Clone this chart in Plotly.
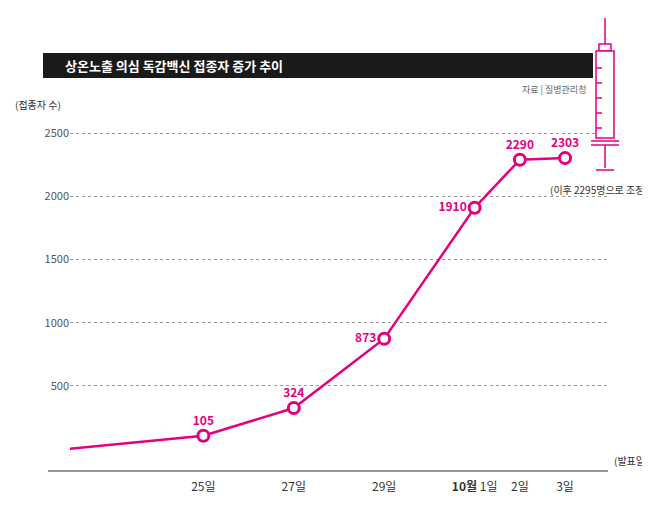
import plotly.graph_objects as go

days = [22, 25, 27, 29, 31, 32, 33]
tick_text = ["<b>9월</b> 22일", "25일", "27일", "29일", "<b>10월</b> 1일", "2일", "3일"]
counts = [0, 105, 324, 873, 1910, 2290, 2303]
labels = ["0", "105", "324", "873", "1910", "2290", "2303"]
label_pos = ["top center", "top center", "top center", "middle left", "middle left", "top center", "top center"]

PINK = "#e6007e"
L, R, T, B, W, H = 62, 50, 105, 52, 650, 522
PW, PH = W - L - R, H - T - B

def px(x):
    return (x - L) / PW

def py(y):
    return (H - B - y) / PH

fig = go.Figure()
fig.add_trace(go.Scatter(
    x=days, y=counts, mode="lines+markers+text",
    text=["<b>%s</b>" % t for t in labels], textposition=label_pos,
    textfont=dict(color=PINK, size=12),
    line=dict(color=PINK, width=2.5),
    marker=dict(size=11, color="white", line=dict(color=PINK, width=3)),
    cliponaxis=False, hoverinfo="skip"))

shapes = []
# title bar
shapes.append(dict(type="rect", xref="paper", yref="paper", x0=px(35), x1=px(585), y0=py(70), y1=py(45),
                   fillcolor="#1a1a1a", line_width=0, layer="below"))
# x baseline
shapes.append(dict(type="line", xref="paper", yref="paper", x0=px(40), x1=px(600), y0=py(463), y1=py(463),
                   line=dict(color="#333", width=1)))
# syringe
def ln(x0, y0, x1, y1):
    shapes.append(dict(type="line", xref="paper", yref="paper", x0=px(x0), x1=px(x1), y0=py(y0), y1=py(y1),
                       line=dict(color=PINK, width=1.5)))
def rc(x0, y0, x1, y1):
    shapes.append(dict(type="rect", xref="paper", yref="paper", x0=px(x0), x1=px(x1), y0=py(y1), y1=py(y0),
                       line=dict(color=PINK, width=1.5), fillcolor="white"))
ln(597, 10, 597, 36)
rc(591, 36, 603, 43)
rc(588, 43, 606, 130)
for yy in [60, 75, 90, 105, 120]:
    ln(588, yy, 594, yy)
ln(583, 133, 611, 133)
ln(583, 137, 611, 137)
ln(597, 137, 597, 160)
ln(588, 162, 606, 162)

ann = [
    dict(x=px(55), y=py(57), text="<b>상온노출 의심 독감백신 접종자 증가 추이</b>", font=dict(color="white", size=13), xanchor="left"),
    dict(x=px(580), y=py(82), text="자료 | 질병관리청", font=dict(color="#666", size=9), xanchor="right"),
    dict(x=px(5), y=py(96), text="(접종자 수)", font=dict(color="#333", size=10), xanchor="left"),
    dict(x=px(642), y=py(452), text="(발표일)", font=dict(color="#333", size=10), xanchor="right"),
    dict(x=px(642), y=py(181), text="(이후 2295명으로 조정)", font=dict(color="#333", size=10), xanchor="right"),
]
for a in ann:
    a.update(xref="paper", yref="paper", showarrow=False, yanchor="middle")

fig.update_layout(
    width=W, height=H, margin=dict(l=L, r=R, t=T, b=B),
    paper_bgcolor="white", plot_bgcolor="white", showlegend=False,
    font=dict(family="Noto Sans CJK KR", color="#333"),
    shapes=shapes, annotations=ann,
    xaxis=dict(range=[22.05, 33.95], tickvals=days, ticktext=tick_text, showgrid=False,
               zeroline=False, showline=False, ticks="", tickfont=dict(size=12, color="#333")),
    yaxis=dict(range=[-230, 2660], tickvals=[500, 1000, 1500, 2000, 2500], showgrid=True,
               gridcolor="#999", griddash="dot", zeroline=False, ticks="",
               tickfont=dict(size=11, color="#555")),
)
fig.write_html("out.html")
